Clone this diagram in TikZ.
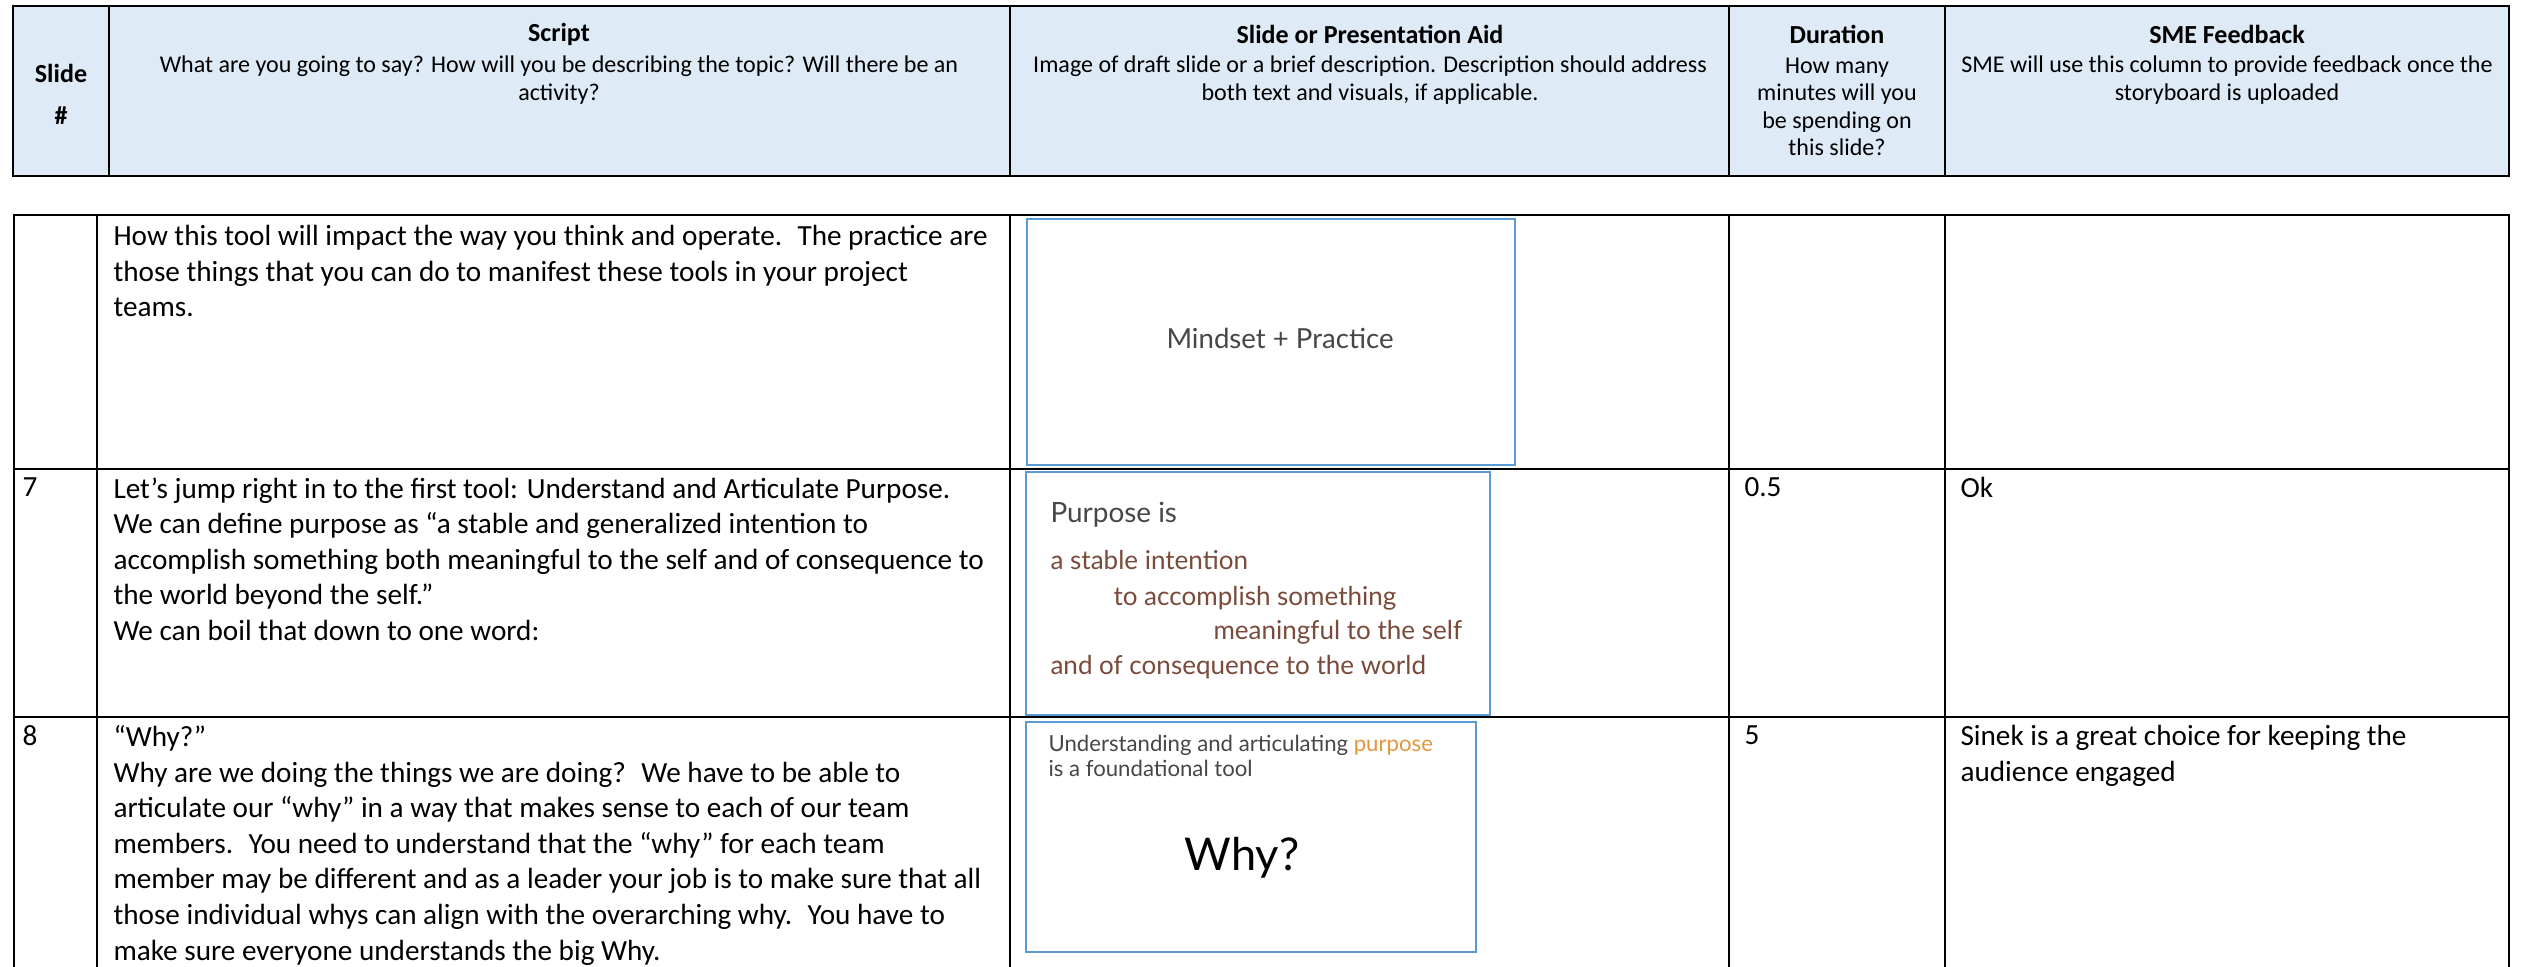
\documentclass[tikz,border=0pt]{standalone}
\usepackage{fontspec}
\setmainfont{Carlito}
\newfontfamily\slidefont{Lato}
\usetikzlibrary{positioning}

\definecolor{headblue}{RGB}{222,234,246}
\definecolor{slideblue}{RGB}{91,155,213}
\definecolor{slidebrown}{RGB}{122,74,58}
\definecolor{slidegray}{RGB}{70,70,70}
\definecolor{slideorange}{RGB}{228,150,60}

\begin{document}
\begin{tikzpicture}[x=0.3766pt, y=-0.3766pt,
  rule/.style={line width=0.9pt},
  headtitle/.style={font=\fontsize{9.8}{10.4}\selectfont\bfseries, inner sep=0pt, align=center},
  headtext/.style={font=\fontsize{9.05}{10.3}\selectfont, inner sep=0pt, align=center},
  body/.style={font=\fontsize{11}{13.4}\selectfont, inner sep=0pt, align=left, anchor=north west},
  slidebox/.style={draw=slideblue, line width=0.75pt, fill=white},
  slidetext/.style={font=\slidefont, inner sep=0pt, anchor=base west}]
\useasboundingbox (0,0) rectangle (2524,967);
% Header row
\fill[headblue] (13,6) rectangle (2509,176);
\draw[rule] (13,6) rectangle (2509,176);
\foreach \x in {109,1010,1729,1945} \draw[rule] (\x,6) -- (\x,176);
\node[headtitle] (hslide) at (61,94) {Slide\\[5.5pt]\#};
\node[headtitle] (hscript) at (559,34) {Script};
\node[headtext] (dscript) at (559,80) {What are you going to say? How will you be describing the topic? Will there be an\\activity?};
\node[headtitle] (haid) at (1370,34) {Slide or Presentation Aid};
\node[headtext] (daid) at (1370,80) {Image of draft slide or a brief description. Description should address\\both text and visuals, if applicable.};
\node[headtitle] (hdur) at (1837,34) {Duration};
\node[headtext] (ddur) at (1837,107) {How many\\minutes will you\\be spending on\\this slide?};
\node[headtitle] (hsme) at (2227,34) {SME Feedback};
\node[headtext] (dsme) at (2227,80) {SME will use this column to provide feedback once the\\storyboard is uploaded};
% Storyboard rows
\draw[rule] (14,967) -- (14,215) -- (2509,215) -- (2509,967);
\foreach \y in {469,717} \draw[rule] (14,\y) -- (2509,\y);
\foreach \x in {97,1010,1729,1945} \draw[rule] (\x,215) -- (\x,967);
% Row: mindset
\node[body] (script6) at (113,225) {How this tool will impact the way you think and operate.~ The practice are\\those things that you can do to manifest these tools in your project\\teams.};
\draw[slidebox] (1027,219) rectangle (1515,465);
\node[font=\slidefont\fontsize{10.4}{12}\selectfont, text=slidegray] (mindset) at (1280,338) {Mindset + Practice};
% Row 7
\node[body] (num7) at (22,477) {7};
\node[body] (script7) at (113,477) {Let’s jump right in to the first tool: Understand and Articulate Purpose.\\We can define purpose as “a stable and generalized intention to\\accomplish something both meaningful to the self and of consequence to\\the world beyond the self.”\\We can boil that down to one word:};
\draw[slidebox] (1026,472) rectangle (1490,715);
\node[slidetext, font=\slidefont\fontsize{10.5}{12}\selectfont, text=slidegray] (purpose) at (1050,523) {Purpose is};
\node[slidetext, font=\slidefont\fontsize{9.8}{11}\selectfont, text=slidebrown] (def1) at (1050,570) {a stable intention};
\node[slidetext, font=\slidefont\fontsize{9.8}{11}\selectfont, text=slidebrown] (def2) at (1113,606) {to accomplish something};
\node[slidetext, font=\slidefont\fontsize{9.8}{11}\selectfont, text=slidebrown] (def3) at (1213,640) {meaningful to the self};
\node[slidetext, font=\slidefont\fontsize{9.8}{11}\selectfont, text=slidebrown] (def4) at (1050,674) {and of consequence to the world};
\node[body] (dur7) at (1744,477) {0.5};
\node[body] (sme7) at (1960,477) {Ok};
% Row 8
\node[body] (num8) at (22,725) {8};
\node[body] (script8) at (113,725) {“Why?”\\Why are we doing the things we are doing?~ We have to be able to\\articulate our “why” in a way that makes sense to each of our team\\members.~ You need to understand that the “why” for each team\\member may be different and as a leader your job is to make sure that all\\those individual whys can align with the overarching why.~ You have to\\make sure everyone understands the big Why.};
\draw[slidebox] (1026,722) rectangle (1476,952);
\node[slidetext, font=\slidefont\fontsize{8.35}{9}\selectfont, text=slidegray] (tool1) at (1048,751) {Understanding and articulating \textcolor{slideorange}{purpose}};
\node[slidetext, font=\slidefont\fontsize{8.35}{9}\selectfont, text=slidegray] (tool2) at (1048,776) {is a foundational tool};
\node[font=\slidefont\fontsize{17}{20}\selectfont, text=black] (why) at (1242,858) {Why?};
\node[body] (dur8) at (1744,725) {5};
\node[body] (sme8) at (1960,725) {Sinek is a great choice for keeping the\\audience engaged};
\end{tikzpicture}
\end{document}
